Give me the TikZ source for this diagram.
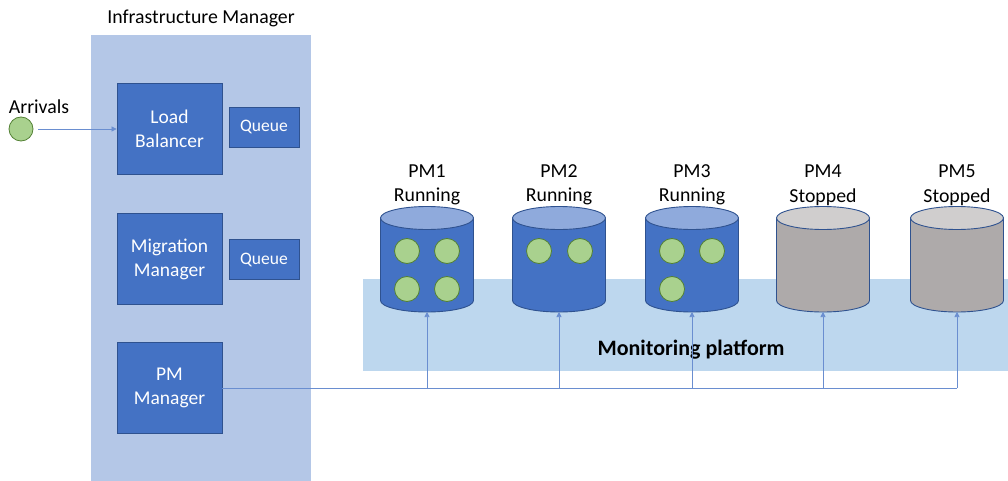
\documentclass[tikz,border=0pt]{standalone}
\usepackage{fontspec}
\setmainfont{Carlito}
\usetikzlibrary{arrows.meta}
\definecolor{panel}{HTML}{B4C7E7}
\definecolor{boxfill}{HTML}{4472C4}
\definecolor{boxedge}{HTML}{2F528F}
\definecolor{monfill}{HTML}{BDD7EE}
\definecolor{captop}{HTML}{8FAADC}
\definecolor{pmgrey}{HTML}{AEAAAA}
\definecolor{pmgreytop}{HTML}{D0CECE}
\definecolor{vmfill}{HTML}{A9D18E}
\definecolor{vmedge}{HTML}{538135}
\definecolor{wirecol}{HTML}{6A8ED0}

% one physical machine drawn as a drum; #1 name of its bottom point, #2 centre x, #3 body, #4 lid
\newcommand\pmdrum[4]{%
  \begin{scope}[shift={(#2,0)}]
    \filldraw[fill=#3, draw=boxedge, line width=0.9pt]
      (-46.5,218) -- (-46.5,300.5)
      arc[start angle=180, end angle=0, x radius=46.5, y radius=11.5]
      -- (46.5,218) -- cycle;
    \filldraw[fill=#4, draw=boxedge, line width=0.9pt]
      (0,218) ellipse[x radius=46.5, y radius=11.5];
    \coordinate (#1) at (0,312);
  \end{scope}}

\begin{document}
\begin{tikzpicture}[x=1pt, y=-1pt,
  txt/.style={font=\fontsize{19.8}{24.5}\selectfont, align=center, inner sep=0},
  mgrbox/.style={draw=boxedge, line width=0.8pt, fill=boxfill, text=white,
    font=\fontsize{19.5}{24}\selectfont, align=center,
    minimum width=105pt, minimum height=91pt, inner sep=0,
    execute at begin node={\rule{0pt}{20pt}}},
  qbox/.style={draw=boxedge, line width=0.8pt, fill=boxfill, text=white,
    font=\fontsize{17.5}{20}\selectfont,
    minimum width=70pt, minimum height=40pt, inner sep=0,
    text height=12pt, text depth=2pt},
  vm/.style={circle, draw=vmedge, fill=vmfill, line width=0.8pt,
    minimum size=25pt, inner sep=0},
  wire/.style={draw=wirecol, line width=0.7pt},
  tip/.style={-{Triangle[width=5pt,length=5pt]}}
]
\useasboundingbox (0,0) rectangle (1008,481);

% infrastructure manager panel
\node[fill=panel, minimum width=220pt, minimum height=446pt, inner sep=0,
  anchor=north west] (infra) at (91,35) {};
\node[txt] (infratitle) at (201,18.5) {Infrastructure Manager};

\node[mgrbox] (lb) at (169.5,129) {Load\\Balancer};
\node[qbox] (q1) at (264,127) {Queue};
\node[mgrbox] (mm) at (169.5,259) {Migration\\Manager};
\node[qbox] (q2) at (264,259) {Queue};
\node[mgrbox] (pmm) at (169.5,388) {PM\\Manager};

% incoming requests
\node[vm, minimum size=24pt] (arr) at (21,129) {};
\node[txt] (arrlabel) at (39,107) {Arrivals};
\draw[wire, tip] (arr.east) ++(5,0) -- (lb.west);

% monitoring platform
\node[fill=monfill, minimum width=645pt, minimum height=92pt, inner sep=0,
  anchor=north west] (mon) at (363,279) {};
\node[font=\fontsize{22}{26}\selectfont\bfseries, inner sep=0] (monlabel) at (691,350) {Monitoring platform};

% physical machines
\pmdrum{pm1}{427}{boxfill}{captop}
\pmdrum{pm2}{559}{boxfill}{captop}
\pmdrum{pm3}{692}{boxfill}{captop}
\pmdrum{pm4}{823}{pmgrey}{pmgreytop}
\pmdrum{pm5}{957}{pmgrey}{pmgreytop}

\node[txt] (l1) at (427,185) {PM1\\Running};
\node[txt] (l2) at (559,185) {PM2\\Running};
\node[txt] (l3) at (692,185) {PM3\\Running};
\node[txt] (l4) at (823,185) {PM4\\Stopped};
\node[txt] (l5) at (957,185) {PM5\\Stopped};

% virtual machines
\node[vm] (v11) at (407,251) {};
\node[vm] (v12) at (447,251) {};
\node[vm] (v13) at (407,289) {};
\node[vm] (v14) at (447,289) {};
\node[vm] (v21) at (539,251) {};
\node[vm] (v22) at (580,251) {};
\node[vm] (v31) at (672,251) {};
\node[vm] (v32) at (712,251) {};
\node[vm] (v33) at (672,289) {};

% control bus from the PM manager
\draw[wire] (pmm.east) -- (pmm.east -| pm5);
\foreach \p in {pm1,pm2,pm3,pm4,pm5}
  \draw[wire, tip] (pmm.east -| \p) -- (\p);
\end{tikzpicture}
\end{document}
